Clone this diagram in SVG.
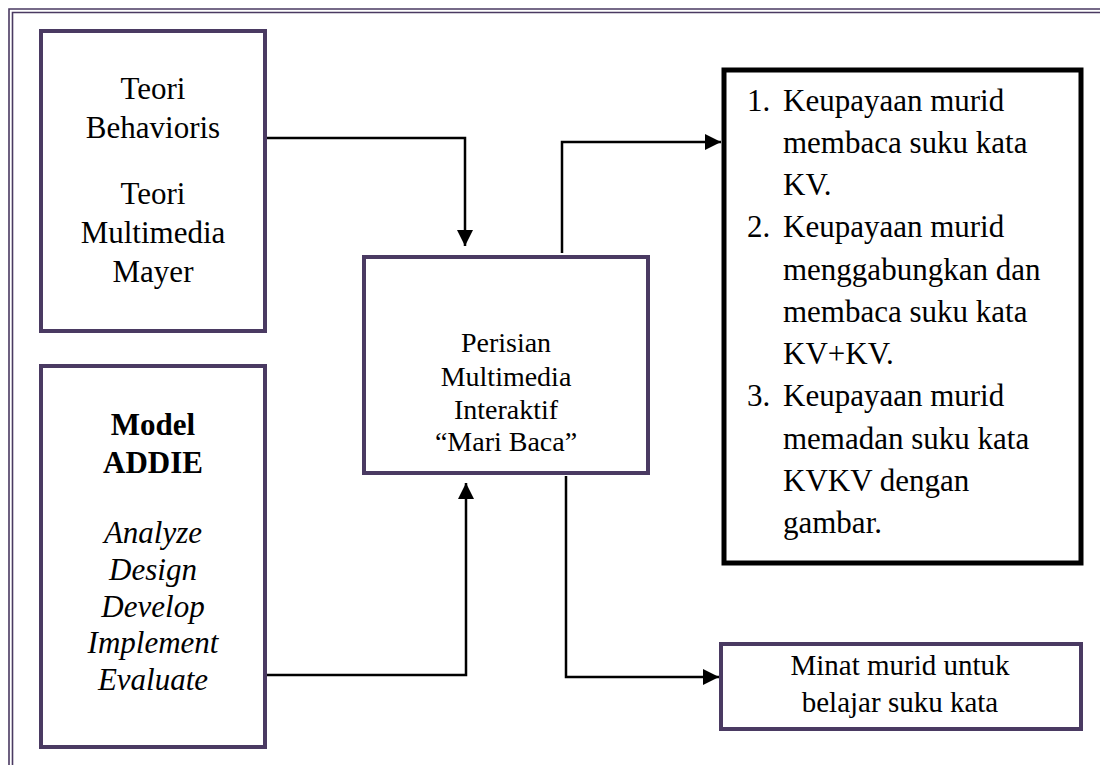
<svg xmlns="http://www.w3.org/2000/svg" width="1100" height="765" viewBox="0 0 1100 765">
<defs>
<style>
.box{fill:#fff;stroke:#4a3a62;stroke-width:4}
.bbox{fill:#fff;stroke:#000;stroke-width:5}
.frame{fill:none;stroke:#4a3a62;stroke-width:1.6}
.t{font-family:"Liberation Serif","Times New Roman",serif;font-size:31px;fill:#000}
.s{font-size:28px}
.m{font-size:29px}
.c{text-anchor:middle}
.b{font-weight:bold}
.i{font-style:italic}
.conn{fill:none;stroke:#000;stroke-width:2.5}
</style>
<marker id="ah" viewBox="0 0 10 10" refX="10" refY="5" markerWidth="6.5" markerHeight="6.5" markerUnits="strokeWidth" orient="auto">
<path d="M0,0 L10,5 L0,10 z" fill="#000"/>
</marker>
</defs>
<rect width="1100" height="765" fill="#fff"/>
<g id="frame">
<path class="frame" d="M9,765 V9 H1100"/>
<path class="frame" d="M12.5,765 V12.5 H1100"/>
</g>
<g id="connectors">
<path class="conn" d="M266,138 H465 V246" marker-end="url(#ah)"/>
<path class="conn" d="M266,675 H466 V483" marker-end="url(#ah)"/>
<path class="conn" d="M562,253 V142 H721" marker-end="url(#ah)"/>
<path class="conn" d="M566,476 V677 H719" marker-end="url(#ah)"/>
</g>
<g id="node-teori">
<rect class="box" x="41" y="31" width="224" height="300"/>
<text class="t c" x="153" y="99">Teori</text>
<text class="t c" x="153" y="138">Behavioris</text>
<text class="t c" x="153" y="204">Teori</text>
<text class="t c" x="153" y="243">Multimedia</text>
<text class="t c" x="153" y="282">Mayer</text>
</g>
<g id="node-addie">
<rect class="box" x="41" y="366" width="224" height="381"/>
<text class="t c b" x="153" y="435">Model</text>
<text class="t c b" x="153" y="473">ADDIE</text>
<text class="t c i" x="153" y="543">Analyze</text>
<text class="t c i" x="153" y="580">Design</text>
<text class="t c i" x="153" y="617">Develop</text>
<text class="t c i" x="153" y="653">Implement</text>
<text class="t c i" x="153" y="690">Evaluate</text>
</g>
<g id="node-perisian">
<rect class="box" x="364" y="257" width="284" height="216"/>
<text class="t s c" x="506" y="352">Perisian</text>
<text class="t s c" x="506" y="386">Multimedia</text>
<text class="t s c" x="506" y="419">Interaktif</text>
<text class="t s c" x="506" y="451">“Mari Baca”</text>
</g>
<g id="node-keupayaan">
<rect class="bbox" x="724" y="70" width="357" height="493"/>
<text class="t" x="747" y="111">1.</text>
<text class="t" x="783" y="111">Keupayaan murid</text>
<text class="t" x="783" y="153">membaca suku kata</text>
<text class="t" x="783" y="195">KV.</text>
<text class="t" x="747" y="237">2.</text>
<text class="t" x="783" y="237">Keupayaan murid</text>
<text class="t" x="783" y="280">menggabungkan dan</text>
<text class="t" x="783" y="322">membaca suku kata</text>
<text class="t" x="783" y="364">KV+KV.</text>
<text class="t" x="747" y="406">3.</text>
<text class="t" x="783" y="406">Keupayaan murid</text>
<text class="t" x="783" y="449">memadan suku kata</text>
<text class="t" x="783" y="491">KVKV dengan</text>
<text class="t" x="783" y="533">gambar.</text>
</g>
<g id="node-minat">
<rect class="box" x="721" y="644" width="360" height="85"/>
<text class="t m c" x="900" y="675">Minat murid untuk</text>
<text class="t m c" x="900" y="712">belajar suku kata</text>
</g>
</svg>
